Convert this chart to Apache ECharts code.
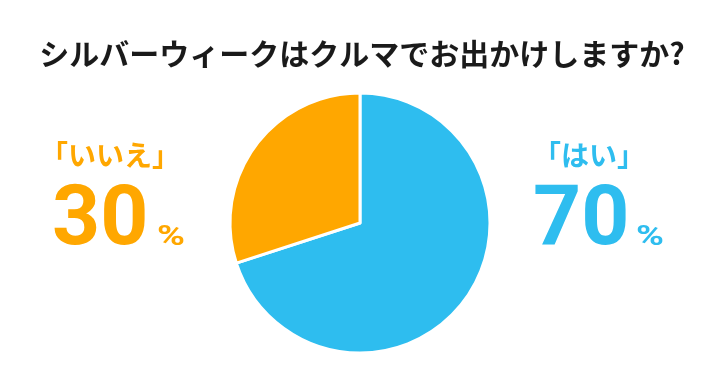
<!DOCTYPE html>
<html>
<head>
<meta charset="utf-8">
<script src="https://cdn.jsdelivr.net/npm/echarts@6/dist/echarts.min.js"></script>
<style>
html,body{margin:0;padding:0;background:#fff;}
#chart{width:720px;height:387px;}
</style>
</head>
<body>
<div id="chart"></div>
<script>
const titleText = 'シルバーウィークはクルマでお出かけしますか?';
const categories = ['はい', 'いいえ'];
const values = [70, 30];
const colors = ['#2EBDEF', '#FFA700'];

const chart = echarts.init(document.getElementById('chart'), null, {renderer: 'canvas'});
const jp = '"Noto Sans CJK JP", sans-serif';
const num = 'Roboto, "Noto Sans", sans-serif';

const total = values.reduce((a, b) => a + b, 0);
const pct = values.map(v => Math.round(v / total * 100));

const layout = [
  {cx: 589, numX: 533, pctX: 636},  // はい
  {cx: 110, numX: 52, pctX: 157}     // いいえ
];

const graphics = [{
  type: 'text', x: 362, y: 54,
  style: {text: titleText, fontSize: 30, fontWeight: 'bold', fontFamily: jp, fill: '#1a1a1a', align: 'center', verticalAlign: 'middle'}
}];
categories.forEach((c, i) => {
  const L = layout[i];
  graphics.push({
    type: 'text', x: L.cx, y: 155,
    style: {text: '「' + c + '」', fontSize: 28, fontWeight: 'bold', fontFamily: jp, fill: colors[i], align: 'center', verticalAlign: 'middle'}
  });
  graphics.push({
    type: 'text', x: L.numX, y: 223,
    style: {text: String(pct[i]), fontSize: 84, fontWeight: 'bold', fontFamily: num, fill: colors[i], align: 'left', verticalAlign: 'middle'}
  });
  graphics.push({
    type: 'text', x: L.pctX, y: 238, scaleX: 1.4,
    style: {text: '%', fontSize: 27, fontWeight: 'bold', fontFamily: num, fill: colors[i], align: 'left', verticalAlign: 'middle'}
  });
});

chart.setOption({
  animation: false,
  backgroundColor: '#fff',
  graphic: graphics,
  series: [{
    type: 'pie',
    center: [360, 223],
    radius: [0, 130],
    startAngle: 90,
    clockwise: true,
    label: {show: false},
    labelLine: {show: false},
    itemStyle: {borderColor: '#fff', borderWidth: 3},
    emphasis: {disabled: true},
    data: categories.map((c, i) => ({name: c, value: values[i], itemStyle: {color: colors[i]}}))
  }]
});
</script>
</body>
</html>
